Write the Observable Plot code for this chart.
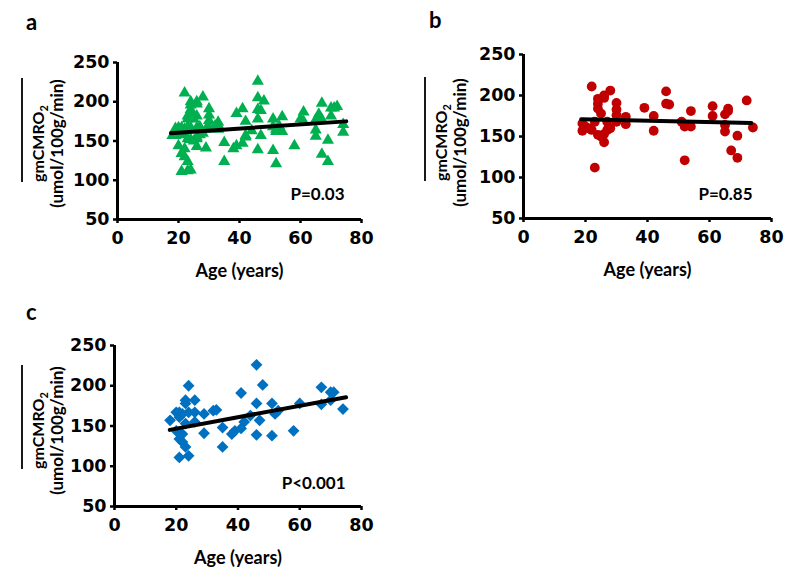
<!DOCTYPE html>
<html><head><meta charset="utf-8">
<script src="https://cdn.jsdelivr.net/npm/d3@7"></script>
<script src="https://cdn.jsdelivr.net/npm/@observablehq/plot@0.6"></script>
<style>
body{margin:0;background:#fff;}
#wrap{position:relative;width:800px;height:576px;overflow:hidden;font-family:Lato,"Liberation Sans",sans-serif;}
.panel{position:absolute;}
.panel g[aria-label="x-axis tick label"], .panel g[aria-label="y-axis tick label"]{font-family:"DejaVu Sans",Lato,sans-serif;font-size:17.5px;font-weight:bold;}
</style></head><body><div id="wrap"></div>
<script>
// ---- data ----
const xTicks = [0, 20, 40, 60, 80];
const yTicks = [50, 100, 150, 200, 250];

// panel b (red circles)
const ageB = [19,19,20,21,22,22,23,23,24,24,24,24,25,25,26,26,26,26,27,27,28,28,30,30,30,30,33,33,39,42,42,46,46,47,51,52,52,54,54,61,61,65,65,65,66,66,67,69,69,72,74];
const valB = [166,157,162,160,158,211,112,168,152,184,190,196,150,178,143,200,153,197,158,168,206,160,191,183,176,168,174,165,185,175,157,205,190,189,168,162,121,181,162,187,175,177,164,156,181,184,133,151,124,194,161];

// panel c (blue diamonds)
const ageC = [18,20,20,21,21,21,21,22,22,22,23,23,23,23,24,24,24,26,26,26,29,29,32,33,35,35,38,39,41,41,42,44,46,46,46,47,48,51,51,52,53,58,60,67,67,70,70,71,74];
const valC = [157,167,144,167,161,134,111,165,140,130,182,178,124,153,200,113,167,155,182,167,165,141,169,170,148,124,140,144,147,191,155,163,226,178,139,157,201,178,138,165,169,144,178,198,177,182,192,192,171];

// panel a (green triangles) = all subjects
const ageA = [...ageB, ...ageC];
const valA = [...valB, ...valC];

// fitted lines (end points)
const fitAgeA = [17.5, 75], fitValA = [160, 175];
const fitAgeB = [18.6, 73.5], fitValB = [171, 166.5];
const fitAgeC = [17.9, 75], fitValC = [145.2, 185.8];

const pLabels = ["P=0.03", "P=0.85", "P<0.001"];
const panelLetters = ["a", "b", "c"];
const xLabel = "Age (years)";
const yLabelTop = "gmCMRO";
const yLabelSub = "2";
const yLabelUnits = "(umol/100g/min)";

// ---- layout ----
const FONT = 'Lato, "Liberation Sans", sans-serif';
const panels = [
  {ages: ageA, vals: valA, fa: fitAgeA, fv: fitValA, p: pLabels[0], letter: panelLetters[0],
   left: 0, top: 0, w: 400, h: 290, ml: 117, mr: 39, mt: 62, mb: 71,
   color: "#00B050", symbol: "triangle", r: 4.5, pdx: -17, pdy: -25, lx: 22, letterY: 30},
  {ages: ageB, vals: valB, fa: fitAgeB, fv: fitValB, p: pLabels[1], letter: panelLetters[1],
   left: 400, top: 0, w: 400, h: 290, ml: 123, mr: 29, mt: 54, mb: 72,
   color: "#C00000", symbol: "circle", r: 4.9, pdx: -19, pdy: -24, lx: 25, letterY: 28},
  {ages: ageC, vals: valC, fa: fitAgeC, fv: fitValC, p: pLabels[2], letter: panelLetters[2],
   left: 0, top: 290, w: 400, h: 286, ml: 114, mr: 39, mt: 55, mb: 70,
   color: "#0070C0", symbol: "diamond2", r: 5.3, pdx: -16, pdy: -23, lx: 22, letterY: 30}
];

const wrap = document.getElementById("wrap");

panels.forEach(P => {
  const pts = P.ages.map((a, i) => ({age: a, val: P.vals[i]}));
  const fit = P.fa.map((a, i) => ({age: a, val: P.fv[i]}));
  const svg = Plot.plot({
    width: P.w, height: P.h,
    marginLeft: P.ml, marginRight: P.mr, marginTop: P.mt, marginBottom: P.mb,
    style: {fontFamily: FONT, fontSize: "18px", fontWeight: "bold", color: "#000", background: "transparent", overflow: "visible"},
    x: {domain: [0, 80]},
    y: {domain: [50, 250]},
    marks: [
      Plot.axisX({ticks: xTicks, tickFormat: d => String(d), tickSize: 4, tickPadding: 8, strokeWidth: 2.5, label: null, fontSize: 17.5, fontWeight: "bold"}),
      Plot.axisY({ticks: yTicks, tickFormat: d => String(d), tickSize: 4, tickPadding: 4, strokeWidth: 2.5, label: null, fontSize: 17.5, fontWeight: "bold"}),
      Plot.ruleX([0], {stroke: "#000", strokeWidth: 3}),
      Plot.ruleY([50], {stroke: "#000", strokeWidth: 3}),
      Plot.dot(pts, {x: "age", y: "val", symbol: P.symbol, r: P.r, fill: P.color, stroke: "none", fillOpacity: 1}),
      Plot.line(fit, {x: "age", y: "val", stroke: "#000", strokeWidth: 4}),
      Plot.text([P.p], {text: d => d, frameAnchor: "bottom-right", textAnchor: "end", lineAnchor: "middle", dx: P.pdx, dy: P.pdy, fontSize: 17, fontWeight: "bold", fill: "#000"}),
      Plot.text([xLabel], {text: d => d, frameAnchor: "bottom", lineAnchor: "middle", dy: 52, fontSize: 18, fontWeight: "bold", fill: "#000"})
    ]
  });
  const div = document.createElement("div");
  div.className = "panel";
  div.style.left = P.left + "px";
  div.style.top = P.top + "px";
  div.appendChild(svg);
  wrap.appendChild(div);

  const s = d3.select(svg);
  const bottom = P.h - P.mb;
  const g = s.append("g").attr("font-family", FONT).attr("font-weight", "bold").attr("fill", "#000");
  // panel letter
  g.append("text").attr("text-anchor", "start").attr("x", P.lx + 4).attr("y", P.letterY).attr("font-size", 22).text(P.letter);
  // overline bar of the y label
  g.append("line").attr("x1", P.lx).attr("x2", P.lx).attr("y1", bottom - 141).attr("y2", bottom - 37)
    .attr("stroke", "#000").attr("stroke-width", 1.8);
  // gmCMRO2
  const t1 = g.append("text").attr("text-anchor", "start")
    .attr("transform", `translate(${P.lx + 16},${bottom - 37}) rotate(-90)`)
    .attr("dy", "0.35em").attr("font-size", 16);
  t1.append("tspan").text(yLabelTop);
  t1.append("tspan").attr("font-size", 11).attr("dy", 4).text(yLabelSub);
  // units
  g.append("text").attr("text-anchor", "middle")
    .attr("transform", `translate(${P.lx + 35},${bottom - 75.5}) rotate(-90)`)
    .attr("dy", "0.35em").attr("font-size", 17).text(yLabelUnits);
});
</script>
</body></html>
